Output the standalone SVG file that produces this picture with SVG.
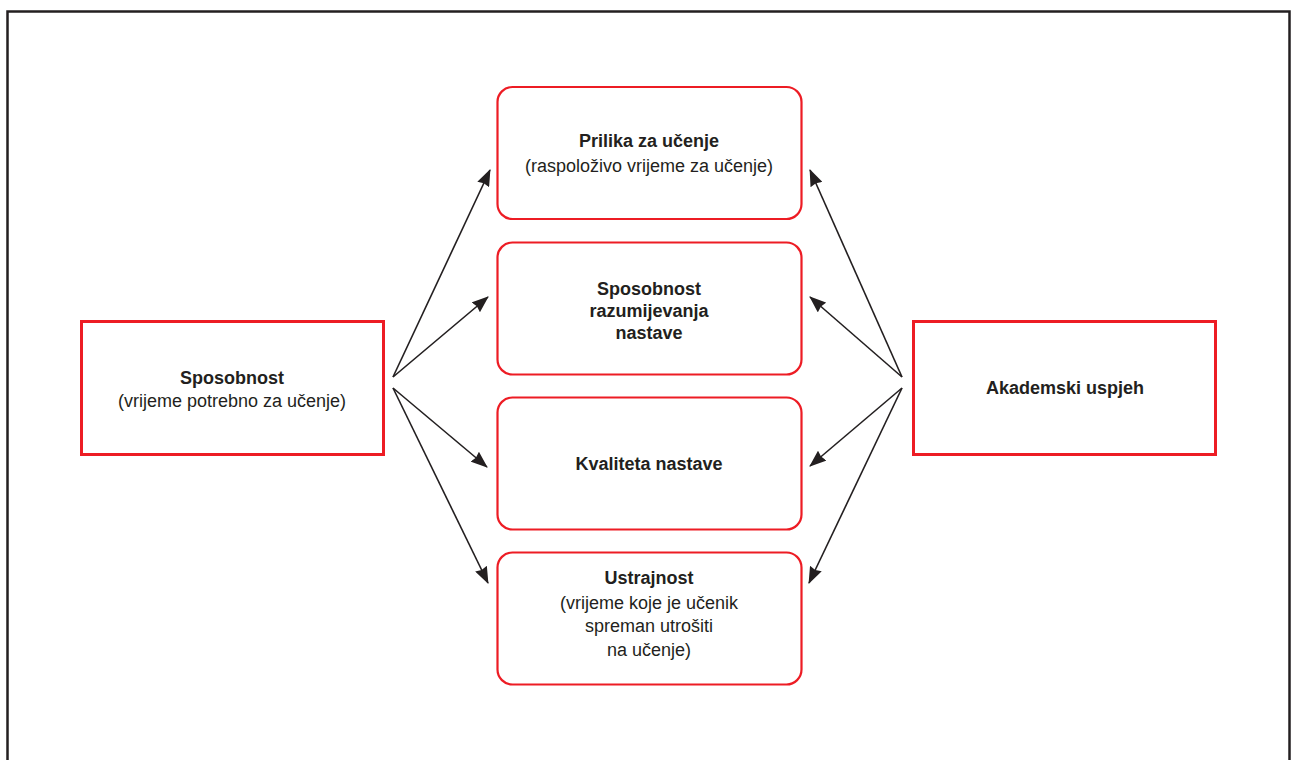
<svg xmlns="http://www.w3.org/2000/svg" width="1291" height="760" viewBox="0 0 1291 760">
<defs>
<style>
.frame{fill:none;stroke:#231f20;stroke-width:2.5}
.sq{fill:#fff;stroke:#ed1c24;stroke-width:3}
.rd{fill:#fff;stroke:#ed1c24;stroke-width:2.2}
.c{stroke:#231f20;stroke-width:1.6;fill:none;marker-end:url(#ah)}
text{font-family:"Liberation Sans",Arial,sans-serif;font-size:18px;fill:#231f20;text-anchor:middle}
.b{font-weight:bold}
</style>
<marker id="ah" viewBox="0 0 17 13" refX="16" refY="6.5" markerWidth="17" markerHeight="13" markerUnits="userSpaceOnUse" orient="auto">
<path d="M0,0 L17,6.5 L0,13 L1.5,6.5 Z" fill="#231f20"/>
</marker>
</defs>
<rect width="1291" height="760" fill="#fff"/>
<rect class="frame" x="7.5" y="11.5" width="1282" height="760"/>
<g id="connectors">
<line class="c" x1="393" y1="377" x2="490" y2="170"/>
<line class="c" x1="393" y1="377" x2="488" y2="297"/>
<line class="c" x1="393" y1="388" x2="487" y2="467"/>
<line class="c" x1="393" y1="388" x2="488" y2="583"/>
<line class="c" x1="902" y1="377" x2="810" y2="170"/>
<line class="c" x1="902" y1="377" x2="810" y2="297"/>
<line class="c" x1="902" y1="388" x2="810" y2="466"/>
<line class="c" x1="902" y1="388" x2="809" y2="583"/>
</g>
<g id="sposobnost">
<rect class="sq" x="81.5" y="321.5" width="302" height="133"/>
<text class="b" x="232" y="384">Sposobnost</text>
<text x="232" y="407">(vrijeme potrebno za učenje)</text>
</g>
<g id="akademski">
<rect class="sq" x="913.5" y="321.5" width="302" height="133"/>
<text class="b" x="1065" y="394">Akademski uspjeh</text>
</g>
<g id="prilika">
<rect class="rd" x="497.5" y="87" width="304" height="132" rx="15"/>
<text class="b" x="649" y="147">Prilika za učenje</text>
<text x="649" y="172">(raspoloživo vrijeme za učenje)</text>
</g>
<g id="razumijevanje">
<rect class="rd" x="497.5" y="242.5" width="304" height="132" rx="15"/>
<text class="b" x="649" y="295">Sposobnost</text>
<text class="b" x="649" y="317">razumijevanja</text>
<text class="b" x="649" y="339">nastave</text>
</g>
<g id="kvaliteta">
<rect class="rd" x="497.5" y="397.5" width="304" height="132" rx="15"/>
<text class="b" x="649" y="470">Kvaliteta nastave</text>
</g>
<g id="ustrajnost">
<rect class="rd" x="497.5" y="552.5" width="304" height="132" rx="15"/>
<text class="b" x="649" y="584">Ustrajnost</text>
<text x="649" y="609">(vrijeme koje je učenik</text>
<text x="649" y="632">spreman utrošiti</text>
<text x="649" y="656">na učenje)</text>
</g>
</svg>
